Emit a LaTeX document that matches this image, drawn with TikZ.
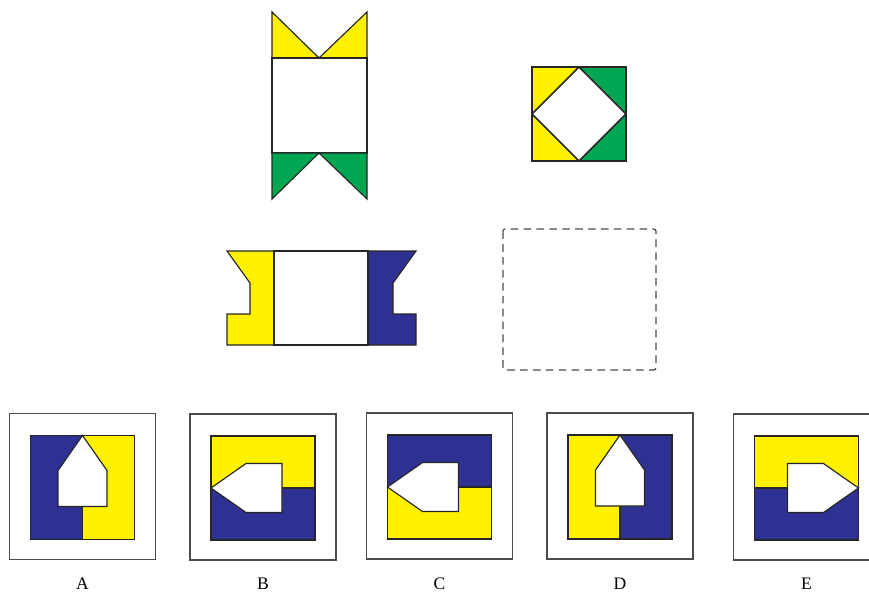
\documentclass[tikz,border=0pt]{standalone}
\usepackage{fontspec}
\setmainfont{Liberation Serif}
\definecolor{yel}{RGB}{255,241,0}
\definecolor{grn}{RGB}{0,166,81}
\definecolor{blu}{RGB}{46,49,146}
\begin{document}
\begin{tikzpicture}[x=0.03cm, y=-0.03cm, line width=1pt, line join=miter]
\tikzstyle{piece}=[draw=black!85]
\tikzstyle{frame}=[draw=black!70, line width=1pt]
\tikzstyle{label}=[font=\fontsize{15}{17}\selectfont, inner sep=1pt]
\useasboundingbox (0,0) rectangle (869,594);
\clip (0,0) rectangle (869,594);
  % top left: square with two triangle pairs
  \filldraw[piece, fill=yel] (272,12) -- (319,58) -- (272,58) -- cycle;
  \filldraw[piece, fill=yel] (367,12) -- (319,58) -- (367,58) -- cycle;
  \filldraw[piece, fill=white] (272,58) rectangle (367,153);
  \filldraw[piece, fill=grn] (272,153) -- (319,153) -- (272,199) -- cycle;
  \filldraw[piece, fill=grn] (319,153) -- (367,153) -- (367,199) -- cycle;
  % top right: square with diamond
  \filldraw[piece, fill=yel] (532,67) -- (579,67) -- (532,114) -- cycle;
  \filldraw[piece, fill=yel] (532,114) -- (532,161) -- (579,161) -- cycle;
  \filldraw[piece, fill=grn] (579,67) -- (626,67) -- (626,114) -- cycle;
  \filldraw[piece, fill=grn] (626,114) -- (626,161) -- (579,161) -- cycle;
  \draw[piece] (532,67) rectangle (626,161);
  \draw[piece] (579,67) -- (626,114) -- (579,161) -- (532,114) -- cycle;
  % middle left: square with two side pieces
  \filldraw[piece, fill=yel] (227,251) -- (274,251) -- (274,345) -- (227,345)
    -- (227,314) -- (250,314) -- (250,283) -- cycle;
  \filldraw[piece, fill=blu] (416,251) -- (368,251) -- (368,345) -- (416,345)
    -- (416,314) -- (393,314) -- (393,283) -- cycle;
  \draw[piece] (274,251) rectangle (368,345);
  % the missing one
  \draw[black!70, line width=1.1pt, dash pattern=on 6.5pt off 4.5pt, rounded corners=2pt]
    (503,229) rectangle (656,370);
  % answers
  \foreach \cx/\cy/\ang/\lc/\rc/\name in {82.5/487.5/0/blu/yel/A,
                                          263/488/90/blu/yel/B,
                                          439.5/487/90/yel/blu/C,
                                          620/487/0/yel/blu/D,
                                          806.5/488/-90/yel/blu/E}
  {
    \draw[frame] (\cx-73,\cy-74) rectangle (\cx+73,\cy+72);
    \begin{scope}[shift={(\cx,\cy)}, rotate=\ang]
      \filldraw[piece, fill=\lc] (-52,-52) rectangle (0,52);
      \filldraw[piece, fill=\rc] (0,-52) rectangle (52,52);
      \filldraw[piece, fill=white] (0,-52) -- (24.5,-17) -- (24.5,19)
        -- (-24.5,19) -- (-24.5,-17) -- cycle;
    \end{scope}
    \node[label] (\name) at (\cx,584) {\name};
  }
\end{tikzpicture}
\end{document}
